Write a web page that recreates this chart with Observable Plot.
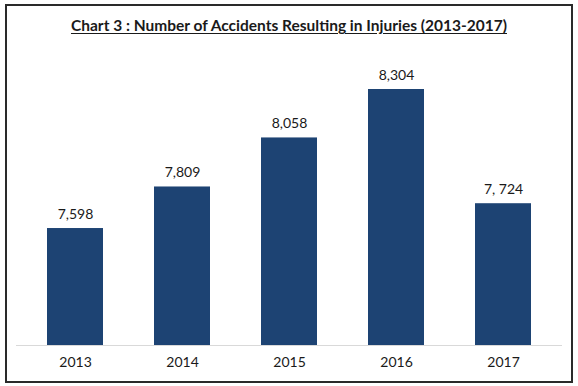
<!DOCTYPE html>
<html>
<head>
<meta charset="utf-8">
<script src="https://cdn.jsdelivr.net/npm/d3@7"></script>
<script src="https://cdn.jsdelivr.net/npm/@observablehq/plot@0.6"></script>
<style>
  html, body { margin: 0; padding: 0; background: #fff; }
  #wrap { position: relative; width: 578px; height: 386px; overflow: hidden; background: #fff; }
  #border { position: absolute; left: 5px; top: 4px; width: 564px; height: 375px; border: 2px solid #2a2a2a; }
  #title { position: absolute; left: 0; width: 578px; top: 16px; text-align: center;
           font-family: Lato, sans-serif; font-weight: bold; font-size: 15.5px; color: #1a1a1a;
           text-decoration: underline; text-underline-offset: 2px; }
  #chart { position: absolute; left: 0; top: 0; }
</style>
</head>
<body>
<div id="wrap">
  <div id="border"></div>
  <div id="title">Chart 3 : Number of Accidents Resulting in Injuries (2013-2017)</div>
  <div id="chart"></div>
</div>
<script>
const years = ["2013", "2014", "2015", "2016", "2017"];
const accidents = [7598, 7809, 8058, 8304, 7724];
const valueLabels = ["7,598", "7,809", "8,058", "8,304", "7, 724"];

const data = years.map((y, i) => ({year: y, value: accidents[i], label: valueLabels[i]}));

const chart = Plot.plot({
  width: 578,
  height: 386,
  marginLeft: 16,
  marginRight: 16,
  marginTop: 89,
  marginBottom: 41,
  style: {fontFamily: "Lato, sans-serif", fontSize: "14px", color: "#1a1a1a", background: "transparent"},
  x: {domain: years, paddingInner: 0.48, paddingOuter: 0.275, label: null, tickSize: 0, tickPadding: 12},
  y: {domain: [7004, 8304], axis: null},
  marks: [
    Plot.barY(data, {x: "year", y1: 7004, y2: "value", fill: "#1d4373"}),
    Plot.ruleY([7004], {stroke: "#d9d9d9", strokeWidth: 1}),
    Plot.text(data, {x: "year", y: "value", text: "label", dy: -14, fontSize: 14, fill: "#1a1a1a"})
  ]
});
document.getElementById("chart").appendChild(chart);
</script>
</body>
</html>
